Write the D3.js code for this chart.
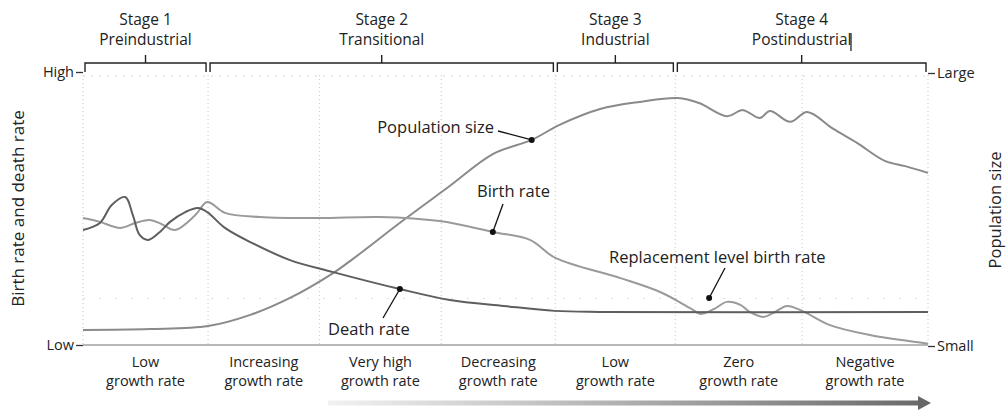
<!DOCTYPE html>
<html>
<head>
<meta charset="utf-8">
<script src="https://cdn.jsdelivr.net/npm/d3@7"></script>
<style>
  body { margin: 0; background: #fff; }
  text { font-family: "Open Sans", "DejaVu Sans", sans-serif; fill: #222; }
</style>
</head>
<body>
<script>
// Demographic transition model (time 0-100, level 0-100)

var width = 1008,
    height = 410;

var stageNames = ["Stage 1", "Stage 2", "Stage 3", "Stage 4"];
var stageSubtitles = ["Preindustrial", "Transitional", "Industrial", "Postindustrial"];
var stageEdges = [0, 14.8, 55.9, 70.1, 100];

var phaseEdges = [0, 14.8, 28.0, 42.4, 55.9, 70.1, 85.1, 100];
var phaseTop = ["Low", "Increasing", "Very high", "Decreasing", "Low", "Zero", "Negative"];
var phaseBottom = ["growth rate", "growth rate", "growth rate", "growth rate", "growth rate", "growth rate", "growth rate"];

var birthRate = [
  [0, 46.5], [2.0, 45.1], [4.4, 42.9], [6.2, 44.7], [7.9, 45.8], [9.3, 44.3], [10.9, 42.1],
  [13.3, 47.6], [14.7, 52.4], [16.8, 48.4], [20.9, 46.9], [28.0, 46.5], [35.1, 46.9],
  [42.2, 45.4], [48.5, 41.4], [52.9, 38.5], [55.9, 31.9], [63.6, 24.5], [68.3, 19.4],
  [71.8, 13.6], [73.1, 11.4], [74.7, 13.2], [76.2, 15.8], [77.8, 14.7], [78.9, 12.1],
  [80.5, 10.3], [81.9, 12.1], [83.3, 14.3], [85.1, 12.5], [88.4, 7.3], [93.1, 3.7], [100, 0.5]
];

var deathRate = [
  [0, 42.1], [2.0, 44.7], [3.4, 51.3], [5.0, 54.2], [5.9, 47.6], [6.7, 40.3], [7.7, 38.5],
  [9.1, 41.4], [10.3, 45.1], [12.1, 48.7], [13.6, 50.2], [14.7, 48.7], [16.8, 42.9],
  [19.8, 37.7], [24.5, 31.1], [29.6, 26.7], [37.5, 20.5], [43.4, 16.5], [49.8, 14.3],
  [55.8, 12.5], [61.2, 12.1], [100, 12.1]
];

var populationSize = [
  [0, 5.9], [7.9, 6.2], [14.8, 7.3], [19.8, 11.4], [24.5, 17.6], [29.6, 26.7], [31.6, 31.1],
  [38.1, 46.5], [43.4, 58.6], [48.5, 70.3], [53.1, 75.5], [56.4, 81.0], [61.2, 86.8],
  [65.9, 89.4], [70.4, 90.8], [72.9, 89.0], [76.2, 84.2], [78.1, 86.4], [80.1, 83.5],
  [81.3, 86.1], [83.7, 82.1], [85.7, 85.7], [88.8, 79.5], [91.6, 74.4], [94.9, 67.8],
  [97.3, 65.9], [100, 63.4]
];

var svg = d3.select("body").append("svg")
    .attr("width", width)
    .attr("height", height);

var x = d3.scaleLinear().domain([0, 100]).range([83, 928]);
var yRate = d3.scaleLinear().domain([0, 100]).range([345, 72]);
var yPop = d3.scaleLinear().domain([0, 100]).range([346, 73]);

// faint dotted guides
svg.append("g").selectAll("line")
    .data(phaseEdges)
    .enter().append("line")
    .attr("x1", function(d) { return x(d); })
    .attr("x2", function(d) { return x(d); })
    .attr("y1", yRate(100) + 3)
    .attr("y2", yRate(0))
    .attr("stroke", "#c8c8c8")
    .attr("stroke-width", 1)
    .attr("stroke-dasharray", "1,3");

svg.append("line")
    .attr("x1", x(0)).attr("x2", x(100))
    .attr("y1", yRate(100) + 4).attr("y2", yRate(100) + 4)
    .attr("stroke", "#d4d4d4").attr("stroke-dasharray", "2,6");

svg.append("line")
    .attr("x1", x(0)).attr("x2", x(100))
    .attr("y1", yRate(17)).attr("y2", yRate(17))
    .attr("stroke", "#dcdcdc").attr("stroke-dasharray", "2,14");

// baseline
svg.append("line")
    .attr("x1", x(0)).attr("x2", x(100))
    .attr("y1", yRate(0)).attr("y2", yRate(0))
    .attr("stroke", "#a0a0a0")
    .attr("stroke-width", 1.6);

// axes
var leftAxis = d3.axisLeft(yRate)
    .tickValues([0, 100])
    .tickSize(7)
    .tickPadding(2)
    .tickFormat(function(d) { return d === 100 ? "High" : "Low"; });

var rightAxis = d3.axisRight(yPop)
    .tickValues([0, 100])
    .tickSize(7)
    .tickPadding(2)
    .tickFormat(function(d) { return d === 100 ? "Large" : "Small"; });

var gl = svg.append("g").attr("transform", "translate(" + x(0) + ",0)").call(leftAxis);
var gr = svg.append("g").attr("transform", "translate(" + x(100) + ",0)").call(rightAxis);
[gl, gr].forEach(function(g) {
    g.select(".domain").remove();
    g.selectAll(".tick line").attr("stroke", "#333").attr("stroke-width", 1.3);
    g.selectAll(".tick text").style("font-size", "14.5px").attr("fill", "#222").attr("font-family", null);
});

// axis titles
svg.append("text")
    .attr("transform", "translate(24," + yRate(50) + ") rotate(-90)")
    .attr("text-anchor", "middle")
    .style("font-size", "17px")
    .text("Birth rate and death rate");

svg.append("text")
    .attr("transform", "translate(1001," + 210 + ") rotate(-90)")
    .attr("text-anchor", "middle")
    .style("font-size", "16.5px")
    .text("Population size");

// stage brackets
var stages = stageNames.map(function(n, i) {
    return { name: n, sub: stageSubtitles[i], x0: x(stageEdges[i]), x1: x(stageEdges[i + 1]) };
});

var sg = svg.append("g").selectAll("g")
    .data(stages)
    .enter().append("g");

sg.append("path")
    .attr("d", function(d) {
        var a = d.x0 + 2, b = d.x1 - 2, c = (d.x0 + d.x1) / 2;
        return "M" + a + ",72V63H" + b + "V72M" + c + ",63V55";
    })
    .attr("fill", "none")
    .attr("stroke", "#222")
    .attr("stroke-width", 1.4);

sg.append("text")
    .attr("x", function(d) { return (d.x0 + d.x1) / 2; })
    .attr("y", 25)
    .attr("text-anchor", "middle")
    .style("font-size", "15.5px")
    .text(function(d) { return d.name; });

sg.append("text")
    .attr("x", function(d) { return (d.x0 + d.x1) / 2; })
    .attr("y", 45)
    .attr("text-anchor", "middle")
    .style("font-size", "15.5px")
    .text(function(d) { return d.sub; });

// stray mark next to "Postindustrial" in the scan
svg.append("line")
    .attr("x1", 851).attr("x2", 851).attr("y1", 33).attr("y2", 51)
    .attr("stroke", "#222").attr("stroke-width", 1.3);

// growth phase labels
var phases = phaseTop.map(function(t, i) {
    return { top: t, bottom: phaseBottom[i], cx: (x(phaseEdges[i]) + x(phaseEdges[i + 1])) / 2 };
});

var pg = svg.append("g").selectAll("g")
    .data(phases)
    .enter().append("g");

pg.append("text")
    .attr("x", function(d) { return d.cx; })
    .attr("y", 367)
    .attr("text-anchor", "middle")
    .style("font-size", "14.5px")
    .text(function(d) { return d.top; });

pg.append("text")
    .attr("x", function(d) { return d.cx; })
    .attr("y", 386)
    .attr("text-anchor", "middle")
    .style("font-size", "14.5px")
    .text(function(d) { return d.bottom; });

// time arrow
var grad = svg.append("defs").append("linearGradient")
    .attr("id", "arrowGrad")
    .attr("x1", "0%").attr("x2", "100%");
grad.append("stop").attr("offset", "0%").attr("stop-color", "#f2f2f2");
grad.append("stop").attr("offset", "35%").attr("stop-color", "#c4c4c4");
grad.append("stop").attr("offset", "100%").attr("stop-color", "#6a6a6a");

svg.append("rect")
    .attr("x", x(29)).attr("y", 400.5)
    .attr("width", x(99) - x(29)).attr("height", 5)
    .attr("fill", "url(#arrowGrad)");

svg.append("path")
    .attr("d", "M" + (x(100) - 10) + ",396L" + (x(100) + 3) + ",403L" + (x(100) - 10) + ",410Z")
    .attr("fill", "#666");

// curves
var lineRate = d3.line()
    .x(function(d) { return x(d[0]); })
    .y(function(d) { return yRate(d[1]); })
    .curve(d3.curveCatmullRom.alpha(0.5));

var linePop = d3.line()
    .x(function(d) { return x(d[0]); })
    .y(function(d) { return yPop(d[1]); })
    .curve(d3.curveCatmullRom.alpha(0.5));

svg.append("path").datum(populationSize)
    .attr("d", linePop)
    .attr("fill", "none")
    .attr("stroke", "#8a8a8a")
    .attr("stroke-width", 2);

svg.append("path").datum(birthRate)
    .attr("d", lineRate)
    .attr("fill", "none")
    .attr("stroke", "#9a9a9a")
    .attr("stroke-width", 2);

svg.append("path").datum(deathRate)
    .attr("d", lineRate)
    .attr("fill", "none")
    .attr("stroke", "#5e5e5e")
    .attr("stroke-width", 2);

// annotations
var notes = [
    { text: "Population size", px: x(53.1), py: yPop(75.5), tx: 494, ty: 133, anchor: "end", lx: 498, ly: 131 },
    { text: "Birth rate", px: x(48.5), py: yRate(41.4), tx: 477, ty: 197, anchor: "start", lx: 503, ly: 204 },
    { text: "Death rate", px: x(37.5), py: yRate(20.5), tx: 328, ty: 335, anchor: "start", lx: 383, ly: 318 },
    { text: "Replacement level birth rate", px: x(74.1), py: yRate(17.2), tx: 609, ty: 263, anchor: "start", lx: 725, ly: 268 }
];

var ng = svg.append("g").selectAll("g")
    .data(notes)
    .enter().append("g");

ng.append("line")
    .attr("x1", function(d) { return d.lx; })
    .attr("y1", function(d) { return d.ly; })
    .attr("x2", function(d) { return d.px; })
    .attr("y2", function(d) { return d.py; })
    .attr("stroke", "#111")
    .attr("stroke-width", 1.3);

ng.append("circle")
    .attr("cx", function(d) { return d.px; })
    .attr("cy", function(d) { return d.py; })
    .attr("r", 3)
    .attr("fill", "#111");

ng.append("text")
    .attr("x", function(d) { return d.tx; })
    .attr("y", function(d) { return d.ty; })
    .attr("text-anchor", function(d) { return d.anchor; })
    .style("font-size", "16.5px")
    .text(function(d) { return d.text; });
</script>
</body>
</html>
